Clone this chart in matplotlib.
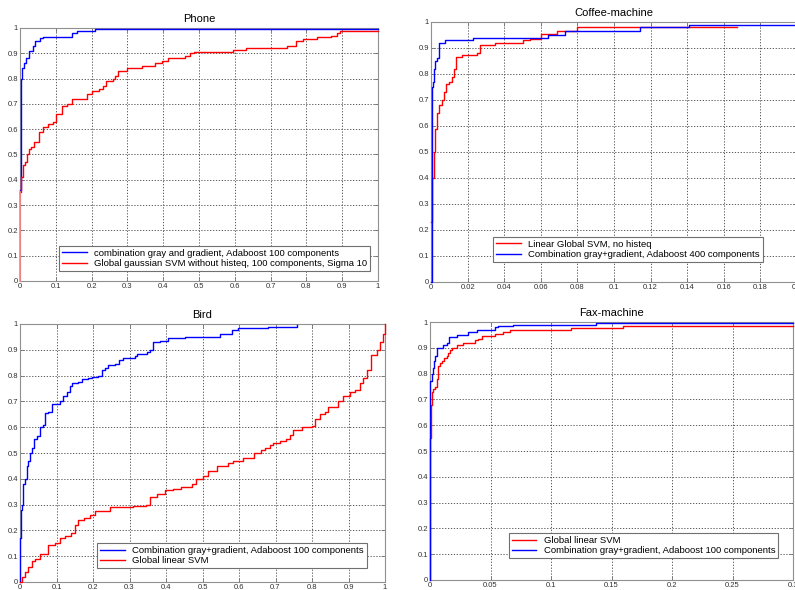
import matplotlib
matplotlib.use("Agg")
import matplotlib.pyplot as plt
import numpy as np

plt.rcParams['font.family'] = ['Liberation Sans', 'DejaVu Sans']

# ---------------- data ----------------
# Phone (x: false positive rate, y: detection rate)
phone_blue_x = [0, 0.002, 0.004, 0.006, 0.012, 0.018, 0.025, 0.036, 0.043, 0.055, 0.064, 0.146, 0.16, 0.21, 1.0]
phone_blue_y = [0.36, 0.73, 0.80, 0.84, 0.86, 0.88, 0.91, 0.93, 0.95, 0.96, 0.965, 0.98, 0.99, 0.998, 0.998]
phone_red_x = [0, 0.004, 0.008, 0.014, 0.02, 0.025, 0.032, 0.04, 0.053, 0.064, 0.078, 0.092, 0.1, 0.116,
               0.13, 0.144, 0.188, 0.2, 0.214, 0.222, 0.232, 0.24, 0.26, 0.265, 0.274, 0.298, 0.34, 0.377,
               0.396, 0.414, 0.46, 0.475, 0.485, 0.595, 0.63, 0.745, 0.77, 0.79, 0.83, 0.87, 0.885, 0.895, 1.0]
phone_red_y = [0.35, 0.41, 0.46, 0.47, 0.50, 0.52, 0.53, 0.55, 0.59, 0.61, 0.62, 0.63, 0.66, 0.69,
               0.70, 0.72, 0.74, 0.75, 0.75, 0.76, 0.77, 0.79, 0.80, 0.81, 0.83, 0.84, 0.85, 0.86,
               0.87, 0.88, 0.89, 0.90, 0.905, 0.915, 0.92, 0.93, 0.95, 0.955, 0.965, 0.97, 0.98, 0.99, 0.99]

# Coffee-machine
coffee_red_x = [0, 0.0003, 0.0008, 0.0015, 0.0023, 0.0033, 0.0045, 0.006, 0.0073, 0.0082, 0.0096, 0.0115,
                0.0125, 0.0138, 0.0168, 0.025, 0.0269, 0.035, 0.0505, 0.054, 0.06, 0.069, 0.08, 0.167]
coffee_red_y = [0.23, 0.28, 0.40, 0.50, 0.59, 0.65, 0.68, 0.70, 0.73, 0.76, 0.77, 0.79,
                0.82, 0.865, 0.875, 0.88, 0.91, 0.92, 0.93, 0.935, 0.955, 0.965, 0.98, 0.98]
coffee_blue_x = [0, 0.0005, 0.0009, 0.0015, 0.0024, 0.0033, 0.0042, 0.0078, 0.023, 0.064, 0.073, 0.114, 0.141, 0.2]
coffee_blue_y = [0.0, 0.75, 0.77, 0.82, 0.85, 0.86, 0.92, 0.93, 0.94, 0.95, 0.965, 0.98, 0.99, 0.99]

# Bird
bird_blue_x = [0, 0.0005, 0.003, 0.005, 0.009, 0.014, 0.018, 0.023, 0.027, 0.032, 0.037, 0.046, 0.055, 0.064,
               0.068, 0.078, 0.087, 0.11, 0.119, 0.128, 0.137, 0.142, 0.16, 0.169, 0.187, 0.196, 0.215,
               0.224, 0.233, 0.242, 0.26, 0.27, 0.283, 0.315, 0.32, 0.347, 0.356, 0.365, 0.384, 0.406,
               0.452, 0.548, 0.58, 0.598, 0.68, 0.758]
bird_blue_y = [0.0, 0.17, 0.28, 0.30, 0.38, 0.40, 0.45, 0.47, 0.50, 0.52, 0.555, 0.565, 0.60, 0.61,
               0.655, 0.66, 0.69, 0.70, 0.72, 0.735, 0.76, 0.77, 0.775, 0.785, 0.79, 0.795, 0.80,
               0.82, 0.83, 0.84, 0.845, 0.86, 0.87, 0.875, 0.885, 0.89, 0.90, 0.93, 0.935, 0.945,
               0.95, 0.96, 0.975, 0.985, 0.99, 0.995]
bird_red_x = [0, 0.005, 0.014, 0.023, 0.032, 0.041, 0.055, 0.078, 0.096, 0.11, 0.124, 0.14, 0.15, 0.16,
              0.175, 0.192, 0.205, 0.247, 0.31, 0.346, 0.356, 0.374, 0.397, 0.42, 0.442, 0.47, 0.483,
              0.5, 0.515, 0.54, 0.57, 0.584, 0.61, 0.64, 0.66, 0.67, 0.685, 0.694, 0.712, 0.73, 0.74,
              0.749, 0.772, 0.799, 0.808, 0.822, 0.836, 0.845, 0.872, 0.886, 0.904, 0.918, 0.932, 0.941,
              0.95, 0.963, 0.977, 0.986, 0.995, 1.0]
bird_red_y = [0.0, 0.02, 0.04, 0.06, 0.08, 0.09, 0.11, 0.145, 0.15, 0.17, 0.18, 0.19, 0.22, 0.24,
              0.25, 0.26, 0.275, 0.29, 0.295, 0.30, 0.33, 0.34, 0.355, 0.36, 0.37, 0.38, 0.40,
              0.41, 0.43, 0.45, 0.46, 0.47, 0.48, 0.50, 0.51, 0.52, 0.53, 0.54, 0.545, 0.555, 0.57,
              0.59, 0.60, 0.605, 0.63, 0.65, 0.66, 0.68, 0.70, 0.72, 0.735, 0.745, 0.77, 0.79,
              0.82, 0.88, 0.90, 0.93, 0.96, 1.0]

# Fax-machine
fax_red_x = [0, 0.0003, 0.0008, 0.0016, 0.0027, 0.0041, 0.0055, 0.0063, 0.0082, 0.0096, 0.0115, 0.0137,
             0.0151, 0.0165, 0.0179, 0.0225, 0.0275, 0.0371, 0.0398, 0.0426, 0.0536, 0.0604, 0.0659,
             0.1168, 0.1593, 0.3]
fax_red_y = [0.0, 0.55, 0.68, 0.73, 0.74, 0.75, 0.78, 0.83, 0.84, 0.85, 0.86, 0.87,
             0.88, 0.89, 0.90, 0.91, 0.92, 0.93, 0.935, 0.945, 0.955, 0.96, 0.97,
             0.975, 0.985, 0.985]
fax_blue_x = [0, 0.0003, 0.0014, 0.0022, 0.0033, 0.0044, 0.0055, 0.011, 0.0137, 0.0159, 0.022,
              0.0316, 0.0385, 0.0536, 0.0536, 0.0563, 0.0687, 0.1374, 0.3]
fax_blue_y = [0.0, 0.77, 0.80, 0.82, 0.85, 0.87, 0.90, 0.91, 0.92, 0.94, 0.95,
              0.96, 0.97, 0.975, 0.98, 0.985, 0.99, 0.995, 0.995]

titles = ["Phone", "Coffee-machine", "Bird", "Fax-machine"]
phone_labels = ["combination gray and gradient, Adaboost 100 components",
                "Global gaussian SVM without histeq, 100 components, Sigma 10"]
coffee_labels = ["Linear Global SVM, no histeq",
                 "Combination gray+gradient, Adaboost 400 components"]
bird_labels = ["Combination gray+gradient, Adaboost 100 components",
               "Global linear SVM"]
fax_labels = ["Global linear SVM",
              "Combination gray+gradient, Adaboost 100 components"]

yticks = [0, 0.1, 0.2, 0.3, 0.4, 0.5, 0.6, 0.7, 0.8, 0.9, 1]
xticks_unit = [0, 0.1, 0.2, 0.3, 0.4, 0.5, 0.6, 0.7, 0.8, 0.9, 1]
xticks_coffee = [0, 0.02, 0.04, 0.06, 0.08, 0.1, 0.12, 0.14, 0.16, 0.18, 0.2]
xticks_fax = [0, 0.05, 0.1, 0.15, 0.2, 0.25, 0.3]

W, H = 795, 590
fig = plt.figure(figsize=(W / 100, H / 100), dpi=100)


def make_ax(l, r, t, b):
    return fig.add_axes([l / W, 1 - b / H, (r - l) / W, (b - t) / H])


def fmt(v):
    return "%g" % v


def style(ax, title, xticks, xmax):
    ax.set_xlim(0, xmax)
    ax.set_ylim(0, 1)
    ax.set_xticks(xticks)
    ax.set_yticks(yticks)
    ax.set_xticklabels([fmt(v) for v in xticks])
    ax.set_yticklabels([fmt(v) for v in yticks])
    ax.tick_params(direction='in', length=3, width=0.6, labelsize=5.5, pad=1.5,
                   top=True, right=True, colors='#707070', labelcolor='#303030')
    ax.grid(True, linestyle=(0, (1.5, 2)), color='#404040', linewidth=0.6)
    for s in ax.spines.values():
        s.set_color('#909090')
        s.set_linewidth(0.8)
    ax.set_title(title, fontsize=8, pad=4)


def legend(ax, anchor):
    leg = ax.legend(loc='lower right', bbox_to_anchor=anchor, fontsize=6.8,
                    fancybox=False, framealpha=1, edgecolor='#707070',
                    handlelength=2.6, borderpad=0.3, labelspacing=0.15,
                    handletextpad=0.8, borderaxespad=0)
    leg.get_frame().set_linewidth(0.8)


def curve(ax, x, y, color, label):
    ax.plot(x, y, color=color, lw=1, drawstyle='steps-post', label=label,
            clip_on=False, zorder=3)


# Phone
ax1 = make_ax(20, 378, 28, 281)
curve(ax1, phone_blue_x, phone_blue_y, 'blue', phone_labels[0])
curve(ax1, phone_red_x, phone_red_y, 'red', phone_labels[1])
ax1.plot([0, 0], [0, phone_red_y[0]], color='#ff8080', lw=1.2, clip_on=False, zorder=3)
style(ax1, titles[0], xticks_unit, 1)
legend(ax1, (0.978, 0.04))

# Coffee
ax2 = make_ax(431, 797, 22, 282)
curve(ax2, coffee_red_x, coffee_red_y, 'red', coffee_labels[0])
curve(ax2, coffee_blue_x, coffee_blue_y, 'blue', coffee_labels[1])
style(ax2, titles[1], xticks_coffee, 0.2)
legend(ax2, (0.906, 0.077))

# Bird
ax3 = make_ax(20, 385, 324, 582)
curve(ax3, bird_blue_x, bird_blue_y, 'blue', bird_labels[0])
curve(ax3, bird_red_x, bird_red_y, 'red', bird_labels[1])
style(ax3, titles[2], xticks_unit, 1)
legend(ax3, (0.95, 0.054))

# Fax
ax4 = make_ax(430, 793, 322, 580)
curve(ax4, fax_red_x, fax_red_y, 'red', fax_labels[0])
curve(ax4, fax_blue_x, fax_blue_y, 'blue', fax_labels[1])
style(ax4, titles[3], xticks_fax, 0.3)
legend(ax4, (0.96, 0.085))

fig.savefig("out.png", dpi=100)
